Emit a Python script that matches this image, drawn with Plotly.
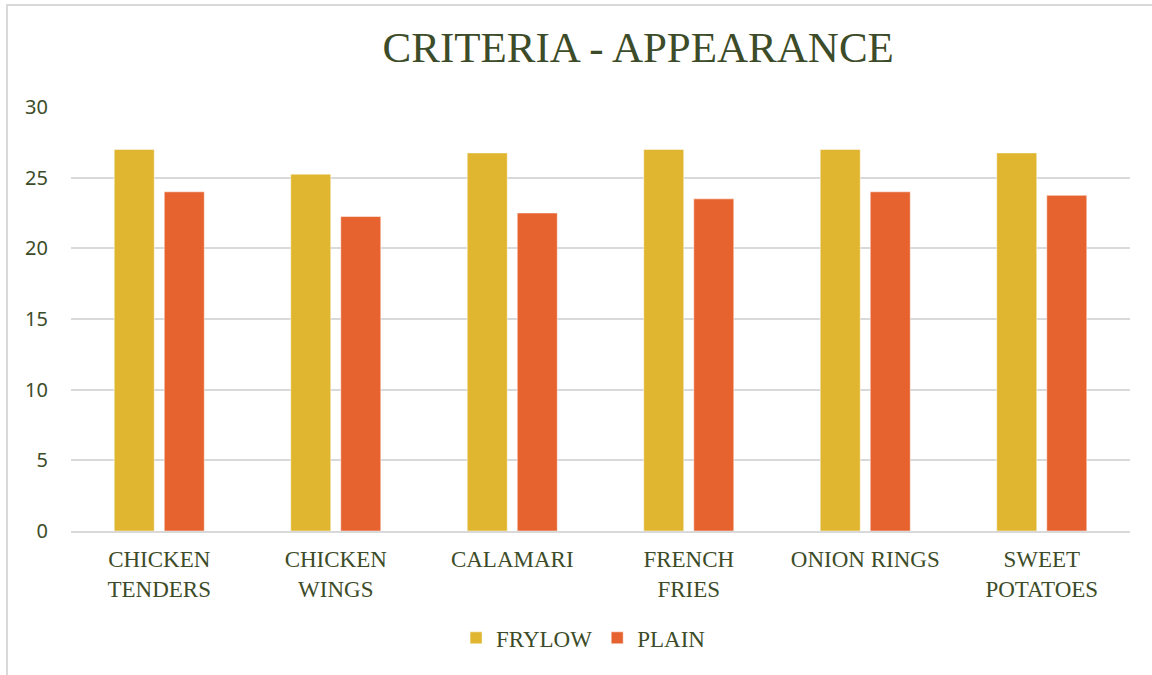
import plotly.graph_objects as go

categories = ['CHICKEN<br>TENDERS', 'CHICKEN<br>WINGS', 'CALAMARI',
              'FRENCH<br>FRIES', 'ONION RINGS', 'SWEET<br>POTATOES']
frylow = [27, 25.25, 26.75, 27, 27, 26.75]
plain = [24, 22.25, 22.5, 23.5, 24, 23.75]
y_ticks = [0, 5, 10, 15, 20, 25, 30]

TEXT = '#3D4C28'
SERIF = 'Liberation Serif, Times New Roman, serif'

fig = go.Figure()
fig.add_trace(go.Bar(name='FRYLOW', x=categories, y=frylow, marker_color='#E0B52F'))
fig.add_trace(go.Bar(name='PLAIN', x=categories, y=plain, marker_color='#E6632F'))

fig.update_layout(
    width=1152,
    height=675,
    template='plotly_white',
    paper_bgcolor='white',
    plot_bgcolor='white',
    margin=dict(l=71, r=22, t=107, b=144),
    barmode='group',
    bargap=0.433,
    bargroupgap=0.2,
    title=dict(
        text='CRITERIA - APPEARANCE',
        font=dict(family=SERIF, size=43, color=TEXT),
        x=0.554, xanchor='center', y=0.93, yanchor='middle',
    ),
    font=dict(family=SERIF, color=TEXT),
    showlegend=True,
    legend=dict(
        orientation='h', x=0.484, xanchor='center', y=-0.252, yanchor='middle',
        font=dict(family=SERIF, size=23, color=TEXT),
        itemwidth=30, traceorder='normal',
    ),
    xaxis=dict(
        showgrid=False, showline=True, linecolor='#D9D9D9', linewidth=2,
        tickfont=dict(family=SERIF, size=23, color=TEXT), ticks='',
        ticklabelstandoff=6,
    ),
    yaxis=dict(
        range=[0, 30], tickvals=y_ticks, showgrid=True, gridcolor='#D9D9D9',
        gridwidth=2, zeroline=False, showline=False, ticks='',
        tickfont=dict(family='Noto Sans, sans-serif', size=20, color=TEXT),
        ticklabelstandoff=22,
    ),
    shapes=[dict(
        type='rect', xref='paper', yref='paper',
        x0=-0.0604, x1=1.05, y0=-0.4, y1=1.2406,
        line=dict(color='#D9D9D9', width=2), fillcolor='rgba(0,0,0,0)',
        layer='below',
    )],
)

# drop the page's default body margin so the chart sits at the window origin
fig.write_html(
    'out.html',
    config={'displayModeBar': False},
    post_script="document.body.style.margin='0';",
)
